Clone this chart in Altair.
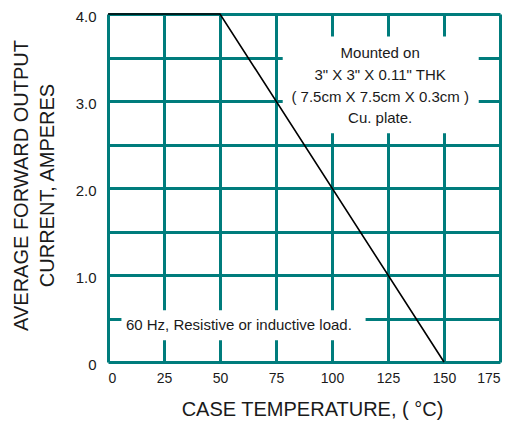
import altair as alt
import pandas as pd

# ---- data ----
temp = [0, 50, 150]
current = [4.0, 4.0, 0.0]
x_ticks = [0, 25, 50, 75, 100, 125, 150, 175]
y_ticks = [0, 0.5, 1.0, 1.5, 2.0, 2.5, 3.0, 3.5, 4.0]

note1_lines = ["Mounted on", '3" X 3" X 0.11" THK', "( 7.5cm X 7.5cm X 0.3cm )", "Cu. plate."]
note2_text = "60 Hz, Resistive or inductive load."

# annotation anchors (data units)
note1_x = 121.5
note1_ys = [3.55, 3.30, 3.05, 2.80]
note1_box = {"x": [78.0], "x2": [165.5], "y": [3.74], "y2": [2.63]}
note2_x = 8.0
note2_y = 0.43
note2_box = {"x": [6.0], "x2": [115.0], "y": [0.594], "y2": [0.25]}

TEAL = "#007c7c"
FONT = "Liberation Sans"
TXT = "#1a1a1a"

xs = alt.Scale(domain=[0, 175], nice=False, zero=False)
ys = alt.Scale(domain=[0, 4], nice=False, zero=False)

x_axis = alt.Axis(
    values=x_ticks, grid=True, gridColor=TEAL, gridWidth=3, gridOpacity=1,
    domain=False, ticks=False, labelFont=FONT, labelFontSize=14, labelColor=TXT,
    labelPadding=9, title="CASE TEMPERATURE, ( °C)", titleFont=FONT,
    titleFontSize=20, titleFontWeight="normal", titleColor=TXT,
    titleX=204, titleY=47, titleBaseline="middle", titleAlign="center",
)
y_axis = alt.Axis(
    values=y_ticks, grid=True, gridColor=TEAL, gridWidth=3, gridOpacity=1,
    domain=False, ticks=False, labelFont=FONT, labelFontSize=15, labelColor=TXT,
    labelPadding=12, labelOffset=2,
    labelExpr="datum.value == 0 ? '0' : (datum.value % 1 == 0 ? format(datum.value, '.1f') : '')",
    title=["AVERAGE FORWARD OUTPUT", "CURRENT, AMPERES"], titleFont=FONT,
    titleFontSize=20, titleFontWeight="normal", titleColor=TXT,
    titleAngle=-90, titleX=-97, titleY=171, titleBaseline="top",
    titleAlign="center", titleLineHeight=26,
)

line_df = pd.DataFrame({"temp": temp, "current": current})
line = alt.Chart(line_df).mark_line(color="black", strokeWidth=1.6).encode(
    x=alt.X("temp:Q", scale=xs, axis=x_axis),
    y=alt.Y("current:Q", scale=ys, axis=y_axis),
)

def box(d):
    df = pd.DataFrame(d)
    return alt.Chart(df).mark_rect(color="white", opacity=1).encode(
        x=alt.X("x:Q", scale=xs, axis=x_axis), x2="x2:Q",
        y=alt.Y("y:Q", scale=ys, axis=y_axis), y2="y2:Q",
    )

n1_df = pd.DataFrame({"t": note1_lines, "x": [note1_x] * 4, "y": note1_ys})
n1 = alt.Chart(n1_df).mark_text(font=FONT, fontSize=15, color=TXT, align="center",
                                baseline="middle").encode(
    x=alt.X("x:Q", scale=xs, axis=x_axis), y=alt.Y("y:Q", scale=ys, axis=y_axis), text="t:N")

n2_df = pd.DataFrame({"t": [note2_text], "x": [note2_x], "y": [note2_y]})
n2 = alt.Chart(n2_df).mark_text(font=FONT, fontSize=15, color=TXT, align="left",
                                baseline="middle").encode(
    x=alt.X("x:Q", scale=xs, axis=x_axis), y=alt.Y("y:Q", scale=ys, axis=y_axis), text="t:N")

chart = alt.layer(box(note1_box), box(note2_box), line, n1, n2).properties(
    width=392, height=348,
    autosize=alt.AutoSizeParams(type="none"),
    padding={"left": 100, "top": 6, "right": 7, "bottom": 58},
    background="white",
).configure_view(stroke=None)

chart.save("out.html", embed_options={"renderer": "svg", "actions": False})
